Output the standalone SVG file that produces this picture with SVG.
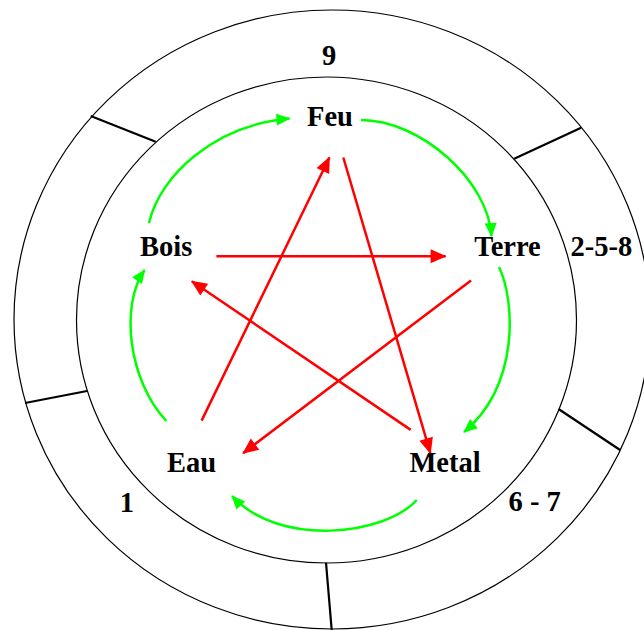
<svg xmlns="http://www.w3.org/2000/svg" width="644" height="630" viewBox="0 0 644 630">
  <style>
    .lbl { font-family: "Liberation Serif", "Times New Roman", serif; font-weight: bold; font-size: 28.5px; fill: #000; text-anchor: middle; }
    .ring { fill: none; stroke: #000; stroke-width: 1.2; }
    .div { stroke: #000; stroke-width: 2.2; }
    .g { fill: none; stroke: #00ff00; stroke-width: 2.5; }
    .r { fill: none; stroke: #ff0000; stroke-width: 2.5; }
  </style>
  <defs>
    <marker id="ag" markerUnits="userSpaceOnUse" orient="auto" markerWidth="20" markerHeight="20" refX="0" refY="0" viewBox="-16 -8 20 16" overflow="visible">
      <path d="M1,0 L-13,-6 L-13,6 Z" fill="#00ff00"/>
    </marker>
    <marker id="ar" markerUnits="userSpaceOnUse" orient="auto" markerWidth="20" markerHeight="20" refX="0" refY="0" viewBox="-16 -8 20 16" overflow="visible">
      <path d="M1,0 L-15,-7 L-15,7 Z" fill="#ff0000"/>
    </marker>
  </defs>
  <rect width="644" height="630" fill="#fff"/>

  <g id="rings">
    <ellipse class="ring" cx="332" cy="319.5" rx="318" ry="309.5"/>
    <ellipse class="ring" cx="326.5" cy="320" rx="250" ry="243"/>
    <line class="div" x1="90.7" y1="116" x2="155.7" y2="141.7"/>
    <line class="div" x1="25" y1="403" x2="87" y2="391"/>
    <line class="div" x1="326" y1="562.7" x2="331.7" y2="630"/>
    <line class="div" x1="514.2" y1="158.7" x2="581.1" y2="127.8"/>
    <line class="div" x1="558.5" y1="409" x2="620.1" y2="450"/>
  </g>

  <g id="ring-labels">
    <text class="lbl" x="329.2" y="65">9</text>
    <text class="lbl" x="601.3" y="256">2-5-8</text>
    <text class="lbl" x="534.7" y="510.7">6 - 7</text>
    <text class="lbl" x="126.8" y="511.7">1</text>
  </g>

  <g id="connectors">
    <path class="g" marker-end="url(#ag)" d="M149,223 C160,175 215,125 289.5,118.5"/>
    <path class="g" marker-end="url(#ag)" d="M361,120 C420,120 488,180 491.5,236"/>
    <path class="g" marker-end="url(#ag)" d="M499,267 C515,300 520,385 464,432"/>
    <path class="g" marker-end="url(#ag)" d="M416.8,500 C385,535 280,548 232,496"/>
    <path class="g" marker-end="url(#ag)" d="M166.3,421 C128,380 120,305 144.6,270"/>

    <path class="r" marker-end="url(#ar)" d="M216.4,256.3 L445.6,256.3"/>
    <path class="r" marker-end="url(#ar)" d="M343.3,157.5 L430.4,453.2"/>
    <path class="r" marker-end="url(#ar)" d="M410.7,429.9 L191.8,281.2"/>
    <path class="r" marker-end="url(#ar)" d="M471,280.4 L243.1,453.2"/>
    <path class="r" marker-end="url(#ar)" d="M201.6,420.6 L329.4,157.5"/>
  </g>

  <g id="Feu"><text class="lbl" x="330" y="125.7">Feu</text></g>
  <g id="Terre"><text class="lbl" x="507.5" y="256">Terre</text></g>
  <g id="Metal"><text class="lbl" x="445" y="471.7">Metal</text></g>
  <g id="Eau"><text class="lbl" x="191.5" y="471.7">Eau</text></g>
  <g id="Bois"><text class="lbl" x="166.2" y="256">Bois</text></g>
</svg>
